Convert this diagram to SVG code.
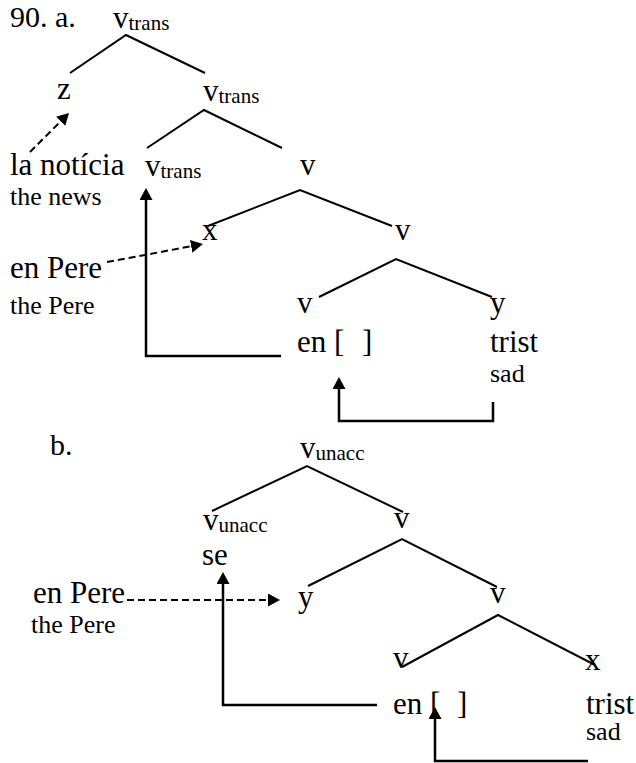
<svg xmlns="http://www.w3.org/2000/svg" width="636" height="763" viewBox="0 0 636 763">
  <style>
    text { font-family: "Liberation Serif", "Times New Roman", serif; fill: #000; }
    .m { font-size: 31px; }
    .g { font-size: 26px; }
    .s { font-size: 21px; }
    .lbl { font-size: 30px; }
    .branch { stroke: #000; stroke-width: 2; fill: none; }
    .move { stroke: #000; stroke-width: 2.5; fill: none; marker-end: url(#head); }
    .link { stroke: #000; stroke-width: 2; fill: none; stroke-dasharray: 7 4; marker-end: url(#head); }
  </style>
  <defs>
    <marker id="head" markerUnits="userSpaceOnUse" markerWidth="12" markerHeight="13" refX="8" refY="6.5" orient="auto">
      <path d="M0,0 L12,6.5 L0,13 z" fill="#000"/>
    </marker>
  </defs>
  <rect width="636" height="763" fill="#fff"/>

  <!-- example labels -->
  <text class="lbl" x="10" y="27">90. a.</text>
  <text class="lbl" x="50" y="455">b.</text>

  <!-- tree a -->
  <g id="a-root"><text class="m" x="113" y="28">v<tspan class="s" dy="2">trans</tspan></text></g>
  <g id="a-z"><text class="m" x="57" y="99">z</text></g>
  <g id="a-vtrans-bar"><text class="m" x="203" y="101">v<tspan class="s" dy="2">trans</tspan></text></g>
  <g id="a-la-noticia">
    <text class="m" x="10" y="175">la notícia</text>
    <text class="g" x="10" y="205">the news</text>
  </g>
  <g id="a-vtrans-head"><text class="m" x="145" y="176">v<tspan class="s" dy="2">trans</tspan></text></g>
  <g id="a-v1"><text class="m" x="300" y="175">v</text></g>
  <g id="a-x"><text class="m" x="202" y="240">x</text></g>
  <g id="a-en-pere">
    <text class="m" x="10" y="278">en Pere</text>
    <text class="g" x="10" y="314">the Pere</text>
  </g>
  <g id="a-v2"><text class="m" x="395" y="240">v</text></g>
  <g id="a-v3">
    <text class="m" x="297" y="313">v</text>
    <text class="m" x="297" y="352">en [<tspan x="362">]</tspan></text>
  </g>
  <g id="a-y">
    <text class="m" x="490" y="313">y</text>
    <text class="m" x="490" y="352">trist</text>
    <text class="g" x="490" y="382">sad</text>
  </g>

  <!-- tree b -->
  <g id="b-root"><text class="m" x="300" y="458">v<tspan class="s" dy="2">unacc</tspan></text></g>
  <g id="b-vunacc-head">
    <text class="m" x="203" y="530">v<tspan class="s" dy="2">unacc</tspan></text>
    <text class="m" x="202" y="565">se</text>
  </g>
  <g id="b-v1"><text class="m" x="394" y="528">v</text></g>
  <g id="b-en-pere">
    <text class="m" x="33" y="603">en Pere</text>
    <text class="g" x="31" y="633">the Pere</text>
  </g>
  <g id="b-y"><text class="m" x="298" y="607">y</text></g>
  <g id="b-v2"><text class="m" x="490" y="603">v</text></g>
  <g id="b-v3">
    <text class="m" x="393" y="668">v</text>
    <text class="m" x="393" y="714">en [<tspan x="457">]</tspan></text>
  </g>
  <g id="b-x">
    <text class="m" x="585" y="670">x</text>
    <text class="m" x="586" y="714">trist</text>
    <text class="g" x="586" y="740">sad</text>
  </g>

  <g id="connectors">
    <!-- branches, tree a -->
    <path class="branch" d="M70,73 L126,35 L205,73"/>
    <path class="branch" d="M147,148 L204,110 L282,148"/>
    <path class="branch" d="M208,226 L300,190 L392,226"/>
    <path class="branch" d="M319,297 L396,259 L492,297"/>
    <!-- movement and links, tree a -->
    <path class="move" d="M281,356 H146 V192"/>
    <path class="move" d="M493,402 V421 H339 V381"/>
    <path class="link" d="M30,152 L66.2,115.8"/>
    <path class="link" d="M107,262 L199,244.8"/>
    <!-- branches, tree b -->
    <path class="branch" d="M212,511 L307,466 L403,512"/>
    <path class="branch" d="M308,586 L402,539 L497,587"/>
    <path class="branch" d="M402,667 L498,615 L595,665"/>
    <!-- movement and links, tree b -->
    <path class="move" d="M377,705 H223 V576"/>
    <path class="move" d="M588,761 H435 V711"/>
    <path class="link" d="M127,600 H276"/>
  </g>
</svg>
